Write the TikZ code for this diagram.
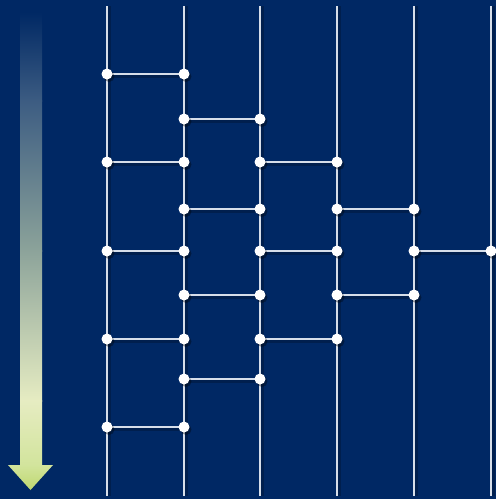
\documentclass[tikz,border=0pt]{standalone}
\usetikzlibrary{shadows}
\definecolor{bgblue}{RGB}{0,40,100}
\definecolor{wire}{RGB}{214,222,234}
\definecolor{arrA}{RGB}{0,40,100}
\definecolor{arrB}{RGB}{60,92,130}
\definecolor{arrC}{RGB}{140,163,154}
\definecolor{arrD}{RGB}{230,236,194}
\definecolor{arrE}{RGB}{210,228,156}
\definecolor{arrF}{RGB}{190,216,112}
\pgfdeclarelayer{back}
\pgfdeclarelayer{wires}
\pgfsetlayers{back,wires,main}
\begin{document}
\begin{tikzpicture}[x=1pt,y=-1pt,
  dot/.style={circle,fill=white,inner sep=0pt,minimum size=11pt,
    drop shadow={shadow xshift=2pt,shadow yshift=-2.5pt,opacity=0.35,fill=black}},
  wirestyle/.style={draw=wire,line width=2.2pt},
  wireshadow/.style={draw=black,opacity=0.22,line width=3.5pt}]
\begin{pgfonlayer}{back}
  \fill[bgblue] (0,0) rectangle (496,499);
  % time arrow
  \shade[top color=arrA,bottom color=arrB] (20,12) rectangle (42,101);
  \shade[top color=arrB,bottom color=arrC] (20,100) rectangle (42,251);
  \shade[top color=arrC,bottom color=arrD] (20,250) rectangle (42,401);
  \shade[top color=arrD,bottom color=arrE] (20,400) rectangle (42,466);
  \shade[top color=arrE,bottom color=arrF] (8,465) -- (53,465) -- (30.5,490) -- cycle;
\end{pgfonlayer}
\useasboundingbox (0,0) rectangle (496,499);
% columns
\foreach \c/\x in {1/107,2/184,3/260,4/337,5/414,6/491} {
  \coordinate (t\c) at (\x,6);
  \coordinate (b\c) at (\x,496);
}
% nodes
\foreach \y/\pairs in {74/{1/2},119/{2/3},162/{1/2,3/4},209/{2/3,4/5},
    251/{1/2,3/4,5/6},295/{2/3,4/5},339/{1/2,3/4},379/{2/3},427/{1/2}} {
  \foreach \a/\b in \pairs {
    \node[dot] (n\y c\a) at (t\a |- 0,\y) {};
    \node[dot] (n\y c\b) at (t\b |- 0,\y) {};
    \begin{pgfonlayer}{wires}
      \draw[wireshadow] ([shift={(2,2.5)}]n\y c\a.center) -- ([shift={(2,2.5)}]n\y c\b.center);
      \draw[wirestyle] (n\y c\a.center) -- (n\y c\b.center);
    \end{pgfonlayer}
  }
}
\begin{pgfonlayer}{wires}
  \foreach \c in {1,...,6} {
    \draw[wireshadow] ([shift={(2.5,0)}]t\c) -- ([shift={(2.5,0)}]b\c);
    \draw[wirestyle] (t\c) -- (b\c);
  }
\end{pgfonlayer}
\end{tikzpicture}
\end{document}
